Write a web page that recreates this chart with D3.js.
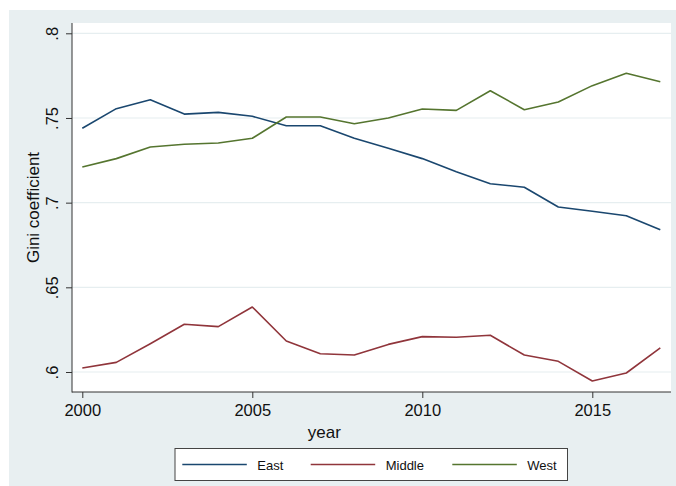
<!DOCTYPE html>
<html>
<head>
<meta charset="utf-8">
<script src="https://cdn.jsdelivr.net/npm/d3@7"></script>
<style>
  html, body { margin: 0; padding: 0; background: #ffffff; }
  svg { display: block; }
  text { font-family: "Liberation Sans", Arial, Helvetica, sans-serif; fill: #111; }
</style>
</head>
<body>
<svg id="chart" width="676" height="486"></svg>
<script>
const years = [2000,2001,2002,2003,2004,2005,2006,2007,2008,2009,2010,2011,2012,2013,2014,2015,2016,2017];
const east   = [0.7439,0.7555,0.7608,0.7523,0.7533,0.7510,0.7454,0.7454,0.7380,0.7321,0.7260,0.7183,0.7112,0.7091,0.6974,0.6949,0.6923,0.6840];
const middle = [0.6024,0.6057,0.6167,0.6282,0.6268,0.6384,0.6183,0.6108,0.6100,0.6163,0.6209,0.6205,0.6217,0.6100,0.6063,0.5947,0.5994,0.6142];
const west   = [0.7211,0.7260,0.7329,0.7345,0.7352,0.7380,0.7506,0.7506,0.7466,0.7500,0.7553,0.7545,0.7661,0.7549,0.7594,0.7691,0.7764,0.7714];
const seriesNames = ["East","Middle","West"];
const seriesColors = ["#1a476f","#90353b","#55752f"];
const yTicks = [0.6,0.65,0.7,0.75,0.8];
const yTickLabels = [".6",".65",".7",".75",".8"];
const xTicks = [2000,2005,2010,2015];
const xTitle = "year";
const yTitle = "Gini coefficient";

const svg = d3.select("#chart");
const W = 676, H = 486;

// graph region
svg.append("rect").attr("x", 9).attr("y", 10).attr("width", W - 9).attr("height", H - 10).attr("fill", "#e8eff1");

// plot region
const plot = {left: 72, top: 23, right: 671, bottom: 392};
svg.append("rect").attr("x", plot.left).attr("y", plot.top)
  .attr("width", plot.right - plot.left).attr("height", plot.bottom - plot.top).attr("fill", "#ffffff");

const x = d3.scaleLinear().domain([2000, 2017]).range([82.3, 660.3]);
const y = d3.scaleLinear().domain([0.6, 0.8]).range([372, 33.3]);

// gridlines
svg.append("g").selectAll("line").data(yTicks).join("line")
  .attr("x1", plot.left).attr("x2", plot.right)
  .attr("y1", d => y(d)).attr("y2", d => y(d))
  .attr("stroke", "#e6eef0").attr("stroke-width", 1.2);

// y axis
const yAxis = svg.append("g").attr("transform", `translate(${plot.left},0)`)
  .call(d3.axisLeft(y).tickValues(yTicks).tickFormat((d, i) => yTickLabels[i]).tickSize(6).tickSizeOuter(0));
yAxis.select(".domain").remove();
yAxis.append("line").attr("x1", 0).attr("x2", 0).attr("y1", plot.top).attr("y2", plot.bottom + 0.5)
  .attr("stroke", "#333").attr("stroke-width", 1);
yAxis.selectAll(".tick line").attr("stroke", "#333");
yAxis.selectAll(".tick text")
  .attr("x", 0).attr("dy", null).attr("y", 0)
  .attr("transform", "translate(-14,0) rotate(-90)")
  .attr("text-anchor", "middle")
  .style("font-size", "16.5px").style("font-family", "'Liberation Sans', Arial, sans-serif").attr("fill", "#111");

// x axis
const xAxis = svg.append("g").attr("transform", `translate(0,${plot.bottom})`)
  .call(d3.axisBottom(x).tickValues(xTicks).tickFormat(d3.format("d")).tickSize(6).tickSizeOuter(0));
xAxis.select(".domain").remove();
xAxis.append("line").attr("x1", plot.left).attr("x2", plot.right).attr("y1", 0).attr("y2", 0)
  .attr("stroke", "#333").attr("stroke-width", 1);
xAxis.selectAll(".tick line").attr("stroke", "#333");
xAxis.selectAll(".tick text").attr("y", 24).attr("dy", null)
  .style("font-size", "16.5px").style("font-family", "'Liberation Sans', Arial, sans-serif").attr("fill", "#111");

// axis titles
svg.append("text").attr("x", x(2007)+4).attr("y", 438).attr("text-anchor", "middle")
  .style("font-size", "17px").text(xTitle);
svg.append("text").attr("transform", "translate(39,207.5) rotate(-90)").attr("text-anchor", "middle")
  .style("font-size", "17px").text(yTitle);

// lines
const allSeries = [east, middle, west];
const line = d3.line().x((d, i) => x(years[i])).y(d => y(d));
svg.append("g").selectAll("path").data(allSeries).join("path")
  .attr("d", d => line(d))
  .attr("fill", "none")
  .attr("stroke", (d, i) => seriesColors[i])
  .attr("stroke-width", 1.6)
  .attr("stroke-linejoin", "round");

// legend
const lg = svg.append("g");
lg.append("rect").attr("x", 175).attr("y", 448.5).attr("width", 392.5).attr("height", 32)
  .attr("fill", "#ffffff").attr("stroke", "#444").attr("stroke-width", 1);
const legendX = [182.3, 310.7, 452.3];
seriesNames.forEach((name, i) => {
  lg.append("line").attr("x1", legendX[i]).attr("x2", legendX[i] + 64.5)
    .attr("y1", 464.5).attr("y2", 464.5)
    .attr("stroke", seriesColors[i]).attr("stroke-width", 1.6);
  lg.append("text").attr("x", legendX[i] + 75).attr("y", 469.5)
    .style("font-size", "13px").text(name);
});
</script>
</body>
</html>
